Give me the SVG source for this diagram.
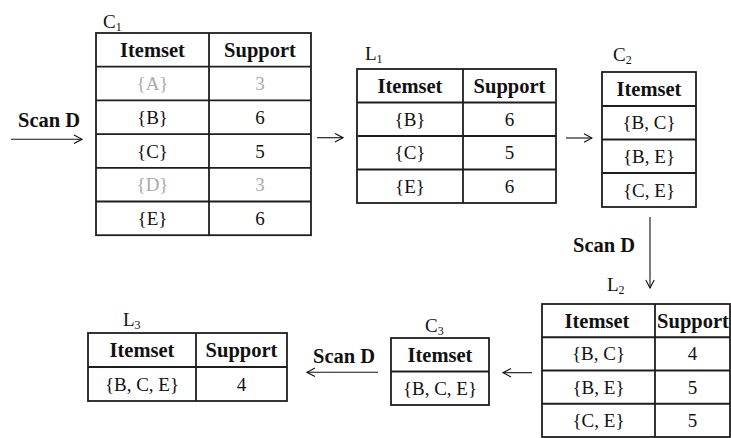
<svg xmlns="http://www.w3.org/2000/svg" width="731" height="438" viewBox="0 0 731 438">
<style>
text{font-family:"Liberation Serif",Tinos,"Times New Roman","DejaVu Serif",serif;font-size:19px;fill:#111;}
.c{text-anchor:middle;}
.b{font-weight:bold;font-size:20.5px;}
.g{fill:#aaaaaa;}
.sub{font-size:12px;}
.tb{fill:#fff;stroke:#1e1e1e;stroke-width:1.8;}
.ln{stroke:#1e1e1e;stroke-width:1.8;fill:none;}
.ar{stroke:#111;stroke-width:1.1;fill:none;marker-end:url(#ah);}
</style>
<defs>
<marker id="ah" viewBox="0 0 10 10" refX="9" refY="5" markerWidth="10" markerHeight="10" markerUnits="userSpaceOnUse" orient="auto">
<path d="M1,0.8 L9,5 L1,9.2" fill="none" stroke="#111" stroke-width="1.1"/>
</marker>
</defs>

<g id="C1">
<text x="103" y="28">C<tspan class="sub" dy="3">1</tspan></text>
<rect class="tb" x="96" y="33" width="215" height="202.2"/>
<path class="ln" d="M209,33V235.2M96,66.7H311M96,100.4H311M96,134.1H311M96,167.8H311M96,201.5H311"/>
<text class="c b" x="152.5" y="57">Itemset</text><text class="c b" x="260" y="57">Support</text>
<text class="c g" x="152.5" y="90">{A}</text><text class="c g" x="260" y="90">3</text>
<text class="c" x="152.5" y="124">{B}</text><text class="c" x="260" y="124">6</text>
<text class="c" x="152.5" y="157.5">{C}</text><text class="c" x="260" y="157.5">5</text>
<text class="c g" x="152.5" y="191">{D}</text><text class="c g" x="260" y="191">3</text>
<text class="c" x="152.5" y="225">{E}</text><text class="c" x="260" y="225">6</text>
</g>

<g id="L1">
<text x="365" y="60">L<tspan class="sub" dy="3">1</tspan></text>
<rect class="tb" x="357" y="69" width="199" height="134"/>
<path class="ln" d="M463,69V203M357,102.5H556M357,136H556M357,169.5H556"/>
<text class="c b" x="410" y="92.8">Itemset</text><text class="c b" x="509.5" y="92.8">Support</text>
<text class="c" x="410" y="125.8">{B}</text><text class="c" x="509.5" y="125.8">6</text>
<text class="c" x="410" y="159.3">{C}</text><text class="c" x="509.5" y="159.3">5</text>
<text class="c" x="410" y="192.8">{E}</text><text class="c" x="509.5" y="192.8">6</text>
</g>

<g id="C2">
<text x="613" y="61">C<tspan class="sub" dy="3">2</tspan></text>
<rect class="tb" x="602" y="72" width="94" height="135"/>
<path class="ln" d="M602,106H696M602,139.5H696M602,173H696"/>
<text class="c b" x="649" y="96">Itemset</text>
<text class="c" x="649" y="129.3">{B, C}</text>
<text class="c" x="649" y="162.8">{B, E}</text>
<text class="c" x="649" y="196.5">{C, E}</text>
</g>

<g id="L2">
<text x="607" y="291">L<tspan class="sub" dy="3">2</tspan></text>
<rect class="tb" x="542" y="304" width="188" height="133"/>
<path class="ln" d="M655,304V437M542,337.25H730M542,370.5H730M542,403.75H730"/>
<text class="c b" x="597" y="327.6">Itemset</text><text class="c b" x="693" y="327.6">Support</text>
<text class="c" x="598.5" y="360.4">{B, C}</text><text class="c" x="692.5" y="360.4">4</text>
<text class="c" x="598.5" y="393.6">{B, E}</text><text class="c" x="692.5" y="393.6">5</text>
<text class="c" x="598.5" y="426.9">{C, E}</text><text class="c" x="692.5" y="426.9">5</text>
</g>

<g id="C3">
<text x="425" y="332">C<tspan class="sub" dy="3">3</tspan></text>
<rect class="tb" x="391" y="338" width="98" height="67"/>
<path class="ln" d="M391,371.5H489"/>
<text class="c b" x="440" y="361.8">Itemset</text>
<text class="c" x="440" y="394.8">{B, C, E}</text>
</g>

<g id="L3">
<text x="123" y="326">L<tspan class="sub" dy="3">3</tspan></text>
<rect class="tb" x="88" y="333" width="199" height="68"/>
<path class="ln" d="M196,333V401M88,367H287"/>
<text class="c b" x="142" y="357">Itemset</text><text class="c b" x="241.5" y="357">Support</text>
<text class="c" x="142" y="390.5">{B, C, E}</text><text class="c" x="241.5" y="390.5">4</text>
</g>

<g id="connectors">
<line class="ar" x1="11" y1="139.3" x2="82" y2="139.3"/>
<text class="b" x="18" y="127">Scan D</text>
<line class="ar" x1="317" y1="137.7" x2="343" y2="137.7"/>
<line class="ar" x1="566" y1="138" x2="592" y2="138"/>
<line class="ar" x1="650" y1="217" x2="650" y2="288"/>
<text class="b" x="573" y="252">Scan D</text>
<line class="ar" x1="532" y1="372.7" x2="503" y2="372.7"/>
<line class="ar" x1="378" y1="372.3" x2="307" y2="372.3"/>
<text class="b" x="313" y="363">Scan D</text>
</g>
</svg>
